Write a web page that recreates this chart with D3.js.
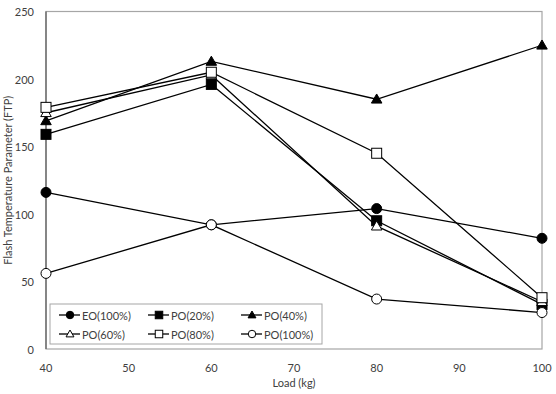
<!DOCTYPE html>
<html>
<head>
<meta charset="utf-8">
<script src="https://cdn.jsdelivr.net/npm/d3@7"></script>
<style>
  body { margin: 0; background: #fff; }
  svg text { font-family: Lato, "Open Sans", sans-serif; fill: #404040; }
</style>
</head>
<body>
<svg id="chart" width="556" height="394"></svg>
<script>
const loads = [40, 60, 80, 100];
const xTicks = [40, 50, 60, 70, 80, 90, 100];
const yTicks = [0, 50, 100, 150, 200, 250];

const seriesNames = ["EO(100%)", "PO(20%)", "PO(40%)", "PO(60%)", "PO(80%)", "PO(100%)"];
const eo100 = [116, 92, 104, 82];
const po20 = [159, 196, 95, 33];
const po40 = [169, 213, 185, 225];
const po60 = [175, 203, 91, 35];
const po80 = [179, 205, 145, 38];
const po100 = [56, 92, 37, 27];

const markers = {
  "EO(100%)": { shape: "circle", fill: "#000" },
  "PO(20%)": { shape: "square", fill: "#000" },
  "PO(40%)": { shape: "triangle", fill: "#000" },
  "PO(60%)": { shape: "triangle", fill: "#fff" },
  "PO(80%)": { shape: "square", fill: "#fff" },
  "PO(100%)": { shape: "circle", fill: "#fff" },
};

const series = [eo100, po20, po40, po60, po80, po100].map((values, i) => ({
  name: seriesNames[i],
  values,
}));

const svg = d3.select("#chart");
const margin = { top: 11.5, right: 14, bottom: 45, left: 46 };
const W = 556, H = 394;

const x = d3.scaleLinear().domain([40, 100]).range([margin.left, W - margin.right]);
const y = d3.scaleLinear().domain([0, 250]).range([H - margin.bottom, margin.top]);

// plot frame
svg.append("rect")
  .attr("x", x(40)).attr("y", y(250))
  .attr("width", x(100) - x(40)).attr("height", y(0) - y(250))
  .attr("fill", "none").attr("stroke", "#a6a6a6").attr("stroke-width", 1.2);
svg.append("line")
  .attr("x1", x(40)).attr("x2", x(40)).attr("y1", y(0)).attr("y2", y(250))
  .attr("stroke", "#595959").attr("stroke-width", 1.2);

// axes labels
svg.append("g").selectAll("text").data(yTicks).join("text")
  .attr("x", 34).attr("y", (d) => y(d))
  .attr("text-anchor", "end").attr("dominant-baseline", "central")
  .attr("font-size", 11).text((d) => d);
svg.append("g").selectAll("text").data(xTicks).join("text")
  .attr("x", (d) => x(d)).attr("y", 367)
  .attr("text-anchor", "middle").attr("dominant-baseline", "central")
  .attr("font-size", 11).text((d) => d);

svg.append("text")
  .attr("x", (x(40) + x(100)) / 2).attr("y", 382)
  .attr("text-anchor", "middle").attr("dominant-baseline", "central")
  .attr("font-size", 11).text("Load (kg)");
svg.append("text")
  .attr("transform", `translate(7,${(y(0) + y(250)) / 2}) rotate(-90)`)
  .attr("text-anchor", "middle").attr("dominant-baseline", "central")
  .attr("font-size", 11).text("Flash Temperature Parameter (FTP)");

function drawMarker(g, m, cx, cy, k = 1) {
  if (m.shape === "circle") {
    g.append("circle").attr("cx", cx).attr("cy", cy).attr("r", 5 * k)
      .attr("fill", m.fill).attr("stroke", "#000").attr("stroke-width", 1);
  } else if (m.shape === "square") {
    g.append("rect").attr("x", cx - 5 * k).attr("y", cy - 5 * k)
      .attr("width", 10 * k).attr("height", 10 * k)
      .attr("fill", m.fill).attr("stroke", "#000").attr("stroke-width", 1);
  } else {
    g.append("path")
      .attr("d", d3.symbol(d3.symbolTriangle, 48 * k * k)())
      .attr("transform", `translate(${cx},${cy + 0.8 * k})`)
      .attr("fill", m.fill).attr("stroke", "#000").attr("stroke-width", 1);
  }
}

const line = d3.line().x((d, i) => x(loads[i])).y((d) => y(d));

const lines = svg.append("g");
series.forEach((s) => {
  lines.append("path").attr("d", line(s.values))
    .attr("fill", "none").attr("stroke", "#000").attr("stroke-width", 1.3);
});
const marks = svg.append("g");
series.forEach((s) => {
  s.values.forEach((v, i) => drawMarker(marks, markers[s.name], x(loads[i]), y(v)));
});

// legend
const legend = svg.append("g");
legend.append("rect")
  .attr("x", 50).attr("y", 304).attr("width", 272).attr("height", 40)
  .attr("fill", "#fff").attr("stroke", "#a6a6a6").attr("stroke-width", 1);
const colX = [59, 148, 241];
const rowY = [315, 334];
seriesNames.forEach((name, i) => {
  const lx = colX[i % 3];
  const ly = rowY[Math.floor(i / 3)];
  legend.append("line").attr("x1", lx).attr("x2", lx + 21).attr("y1", ly).attr("y2", ly)
    .attr("stroke", "#000").attr("stroke-width", 1.3);
  drawMarker(legend, markers[name], lx + 11, ly, 0.75);
  legend.append("text").attr("x", lx + 23).attr("y", ly)
    .attr("dominant-baseline", "central").attr("font-size", 11).text(name);
});
</script>
</body>
</html>
